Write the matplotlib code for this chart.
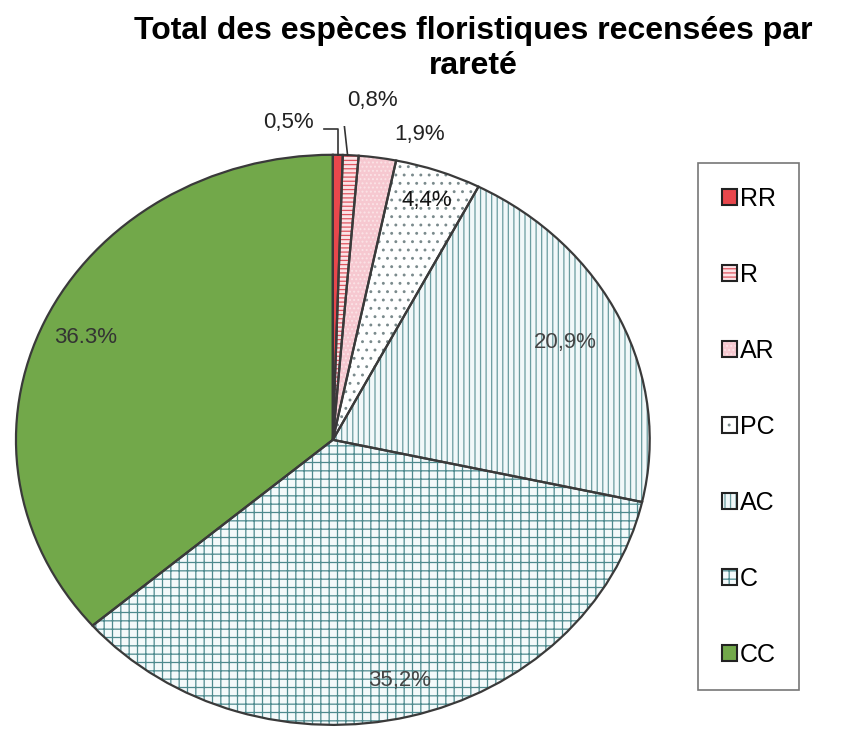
import numpy as np
import matplotlib.pyplot as plt
from matplotlib.patches import Patch

plt.rcParams['font.family'] = ['Liberation Sans', 'DejaVu Sans']
plt.rcParams['hatch.linewidth'] = 0.9

categories = ["RR", "R", "AR", "PC", "AC", "C", "CC"]
values = [0.5, 0.8, 1.9, 4.4, 20.9, 35.2, 36.3]
pct_labels = ["0,5%", "0,8%", "1,9%", "4,4%", "20,9%", "35,2%", "36.3%"]

face_colors = ["#e8474c", "#fbe3e6", "#f6c8d0", "#ffffff", "#f1f8f9", "#f4fafb", "#72a84a"]
hatch_colors = ["#e8474c", "#e05560", "#fbe3e6", "#7a8a8c", "#6a9c9f", "#4e8a8e", "#72a84a"]
hatches = [None, "----", "....", "..", "|||", "++", None]

# label radius per slice (inside labels); small slices handled below
label_r = [None, None, None, 0.89, 0.81, 0.87, 0.86]
label_col = ["#222222", "#222222", "#222222", "#111111", "#444444", "#444444", "#333333"]

fig = plt.figure(figsize=(8.45, 7.3), dpi=100)
# axes sized so the (slightly squashed) pie sits like the scan
ax = fig.add_axes([-0.0186, -0.032, 0.825, 0.859])

wedges, _ = ax.pie(values, startangle=90, counterclock=False, radius=1,
                   colors=face_colors,
                   wedgeprops=dict(linewidth=0))
for w, hc, h in zip(wedges, hatch_colors, hatches):
    w.set_edgecolor(hc)
    if h:
        w.set_hatch(h)

# dark outlines on top
ax.pie(values, startangle=90, counterclock=False, radius=1,
       wedgeprops=dict(fill=False, edgecolor="#3a3a3a", linewidth=1.6))

ax.set_aspect("auto")
ax.set_xlim(-1.1, 1.1)
ax.set_ylim(-1.1, 1.1)

for i, w in enumerate(wedges):
    mid = np.deg2rad((w.theta1 + w.theta2) / 2)
    if label_r[i] is not None:
        r = label_r[i]
        ax.text(r * np.cos(mid), r * np.sin(mid), pct_labels[i],
                ha="center", va="center", fontsize=16, color=label_col[i])

# small slices: labels outside with leader lines
def edge_pt(w):
    mid = np.deg2rad((w.theta1 + w.theta2) / 2)
    return np.cos(mid), np.sin(mid)

x0, y0 = edge_pt(wedges[0])
ax.plot([x0, x0, x0 - 0.045], [y0, 1.09, 1.09], color="#333333", lw=1.2)
ax.text(x0 - 0.075, 1.115, pct_labels[0], ha="right", va="center",
        fontsize=16, color="#222222")

x1, y1 = edge_pt(wedges[1])
ax.plot([x1 - 0.01, x1 - 0.025], [y1, 1.15], color="#333333", lw=1.2)
ax.text(x1 + 0.067, 1.19, pct_labels[1], ha="center", va="center",
        fontsize=16, color="#222222")

x2, y2 = edge_pt(wedges[2])
ax.text(x2 + 0.133, y2 + 0.08, pct_labels[2], ha="center", va="center",
        fontsize=16, color="#222222")

ax.axis("off")

fig.text(0.56, 0.958, "Total des espèces floristiques recensées par",
         ha="center", va="center", fontsize=23, fontweight="bold")
fig.text(0.56, 0.909, "rareté", ha="center", va="center",
         fontsize=23, fontweight="bold")

handles = []
for fc, hc, h in zip(face_colors, hatch_colors, hatches):
    fill = Patch(facecolor=fc, edgecolor=hc, hatch=h, linewidth=0)
    border = Patch(facecolor="none", edgecolor="#222222", linewidth=1.5)
    handles.append((fill, border))

leg = fig.legend(handles, categories, loc="upper left",
                 bbox_to_anchor=(0.826, 0.777), fontsize=18,
                 handlelength=0.6, handleheight=0.6, handletextpad=0.12,
                 labelspacing=2.08, borderpad=0.95, borderaxespad=0,
                 frameon=True, fancybox=False, edgecolor="#555555")
leg.get_frame().set_linewidth(1.2)

fig.savefig("out.png", dpi=100)
